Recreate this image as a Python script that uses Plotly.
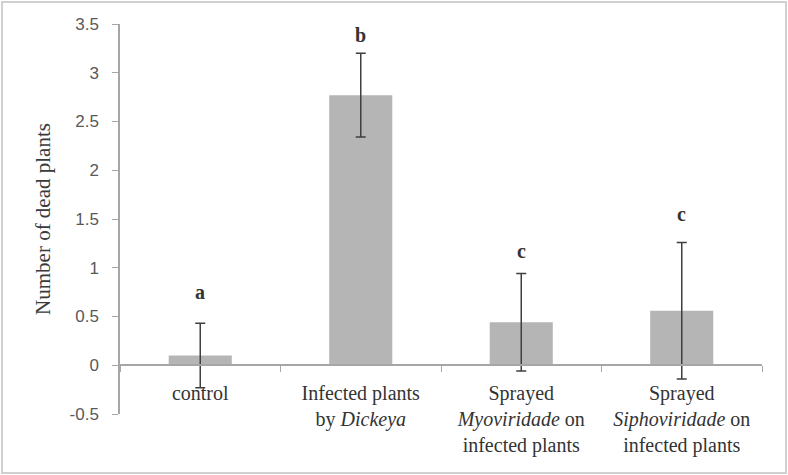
import plotly.graph_objects as go

categories = [
    "control",
    "Infected plants<br>by <i>Dickeya</i>",
    "Sprayed<br><i>Myoviridade</i> on<br>infected plants",
    "Sprayed<br><i>Siphoviridade</i> on<br>infected plants",
]
means = [0.10, 2.77, 0.44, 0.56]
errors = [0.33, 0.43, 0.50, 0.70]
letters = ["a", "b", "c", "c"]
letter_y = [0.75, 3.39, 1.17, 1.55]
ytick_vals = [-0.5, 0, 0.5, 1, 1.5, 2, 2.5, 3, 3.5]
ytick_text = ["-0.5", "0", "0.5", "1", "1.5", "2", "2.5", "3", "3.5"]

W, H = 788, 475
ML, MR, MT, MB = 120, 26, 24, 61
plot_w = W - ML - MR
plot_h = H - MT - MB

axis_col = "#a6a6a6"
serif = "Liberation Serif, Times New Roman, serif"

fig = go.Figure()
fig.add_trace(go.Bar(
    x=categories,
    y=means,
    marker=dict(color="#b5b5b5", line=dict(width=0)),
    error_y=dict(type="data", array=errors, visible=True,
                 color="#3f3f3f", thickness=1.5, width=5),
    showlegend=False,
))

for c, l, ly in zip(categories, letters, letter_y):
    fig.add_annotation(x=c, y=ly, text="<b>%s</b>" % l, showarrow=False,
                       font=dict(family=serif, size=20, color="#333333"))

# chart border
fig.add_shape(type="rect", xref="paper", yref="paper",
              x0=(2 - ML) / plot_w, x1=(786 - ML) / plot_w,
              y0=(H - MB - 473) / plot_h, y1=(H - MB - 2) / plot_h,
              line=dict(color="#d0d0d0", width=2), layer="below")

ymin, ymax = -0.5, 3.5
fig.update_layout(
    width=W, height=H,
    margin=dict(l=ML, r=MR, t=MT, b=MB, pad=0, autoexpand=False),
    paper_bgcolor="white", plot_bgcolor="white",
    bargap=0.607,
    xaxis=dict(
        type="category",
        anchor="free",
        position=(0 - ymin) / (ymax - ymin),
        automargin=False,
        showline=True, linecolor=axis_col, linewidth=1.5,
        ticks="outside", tickson="boundaries", ticklen=6, tickcolor=axis_col,
        tickfont=dict(family=serif, size=20, color="#333333"),
        ticklabelstandoff=10,
        showgrid=False, zeroline=False,
    ),
    yaxis=dict(
        range=[ymin, ymax],
        automargin=False,
        tickvals=ytick_vals, ticktext=ytick_text,
        showline=True, linecolor=axis_col, linewidth=1.5,
        ticks="outside", ticklen=6, tickcolor=axis_col,
        tickfont=dict(family="Liberation Sans, Arial, sans-serif", size=17, color="#595959"),
        ticklabelstandoff=10,
        showgrid=False, zeroline=False,
        title=dict(text="Number of dead plants",
                   font=dict(family=serif, size=21, color="#3a3a3a"),
                   standoff=13),
    ),
)

fig.write_html("out.html", config={"displayModeBar": False},
               post_script="document.body.style.margin='0';")
